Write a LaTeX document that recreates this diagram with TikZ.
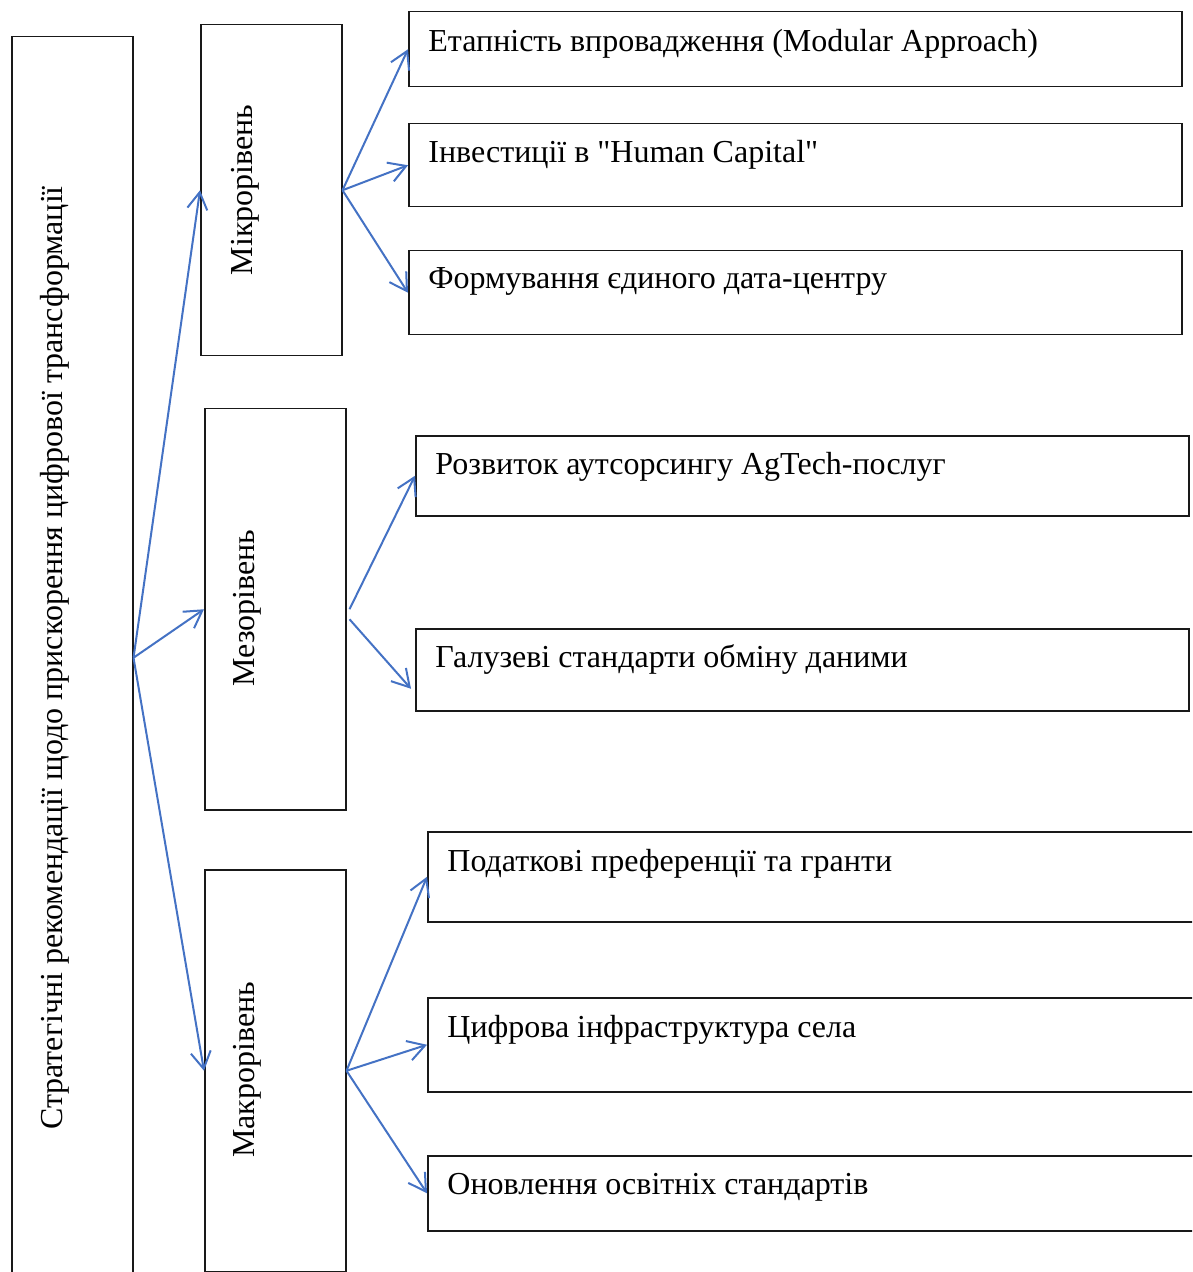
\documentclass[tikz,border=0pt]{standalone}
\usepackage{fontspec}
\setmainfont{Liberation Serif}
\usetikzlibrary{positioning,arrows.meta,calc}
\definecolor{LinkBlue}{RGB}{68,114,196}
\tikzset{
  lvlbox/.style={draw=black!90, line width=0.75pt, anchor=north west, inner sep=0pt},
  vtxt/.style={rotate=90, anchor=base, font=\fontsize{16}{19}\selectfont, inner sep=0pt},
  itxt/.style={anchor=base west, font=\fontsize{16}{19}\selectfont, inner sep=0pt},
  link/.style={-{Straight Barb[length=8.5pt,width=10pt]}, LinkBlue, line width=1pt},
}
\begin{document}
\begin{tikzpicture}[x=0.5pt, y=-0.5pt]
  \useasboundingbox (0,0) rectangle (1192,1272);
  \clip (0,0) rectangle (1192,1272);
  % levels
  \node[lvlbox, minimum width=60.5pt, minimum height=621pt] (strat) at (11,36) {};
  \node[lvlbox, minimum width=70.5pt, minimum height=165.5pt] (micro) at (200,24) {};
  \node[lvlbox, minimum width=70.5pt, minimum height=200.5pt] (meso) at (204,408) {};
  \node[lvlbox, minimum width=70.5pt, minimum height=201pt] (macro) at (204,869) {};
  \node[vtxt] (strat-t) at (62,658) {Стратегічні рекомендації щодо прискорення цифрової трансформації};
  \node[vtxt] (micro-t) at (252,190) {Мікрорівень};
  \node[vtxt] (meso-t) at (254,608) {Мезорівень};
  \node[vtxt] (macro-t) at (254,1070) {Макрорівень};
  % measures
  \node[lvlbox, minimum width=386.5pt, minimum height=37.5pt] (r1) at (408,11) {};
  \node[lvlbox, minimum width=386.5pt, minimum height=41.5pt] (r2) at (408,123) {};
  \node[lvlbox, minimum width=386.5pt, minimum height=42pt] (r3) at (408,250) {};
  \node[lvlbox, minimum width=386.5pt, minimum height=40pt] (r4) at (415,435) {};
  \node[lvlbox, minimum width=386.5pt, minimum height=41pt] (r5) at (415,628) {};
  \node[lvlbox, minimum width=390pt, minimum height=45pt] (r6) at (427,831) {};
  \node[lvlbox, minimum width=390pt, minimum height=47pt] (r7) at (427,997) {};
  \node[lvlbox, minimum width=390pt, minimum height=37.5pt] (r8) at (427,1155) {};
  \node[itxt] (r1-t) at ($(r1.north west)+(20,41)$) {Етапність впровадження (Modular Approach)};
  \node[itxt] (r2-t) at ($(r2.north west)+(20,40)$) {Інвестиції в \textquotedbl Human Capital\textquotedbl};
  \node[itxt] (r3-t) at ($(r3.north west)+(20,39)$) {Формування єдиного дата-центру};
  \node[itxt] (r4-t) at ($(r4.north west)+(20,39)$) {Розвиток аутсорсингу AgTech-послуг};
  \node[itxt] (r5-t) at ($(r5.north west)+(20,39)$) {Галузеві стандарти обміну даними};
  \node[itxt] (r6-t) at ($(r6.north west)+(20,40)$) {Податкові преференції та гранти};
  \node[itxt] (r7-t) at ($(r7.north west)+(20,40)$) {Цифрова інфраструктура села};
  \node[itxt] (r8-t) at ($(r8.north west)+(20,39)$) {Оновлення освітніх стандартів};
  % links
  \draw[link] (strat.east) -- (micro.west);
  \draw[link] (strat.east) -- (meso.west);
  \draw[link] (strat.east) -- (macro.west);
  \foreach \r in {r1,r2,r3} \draw[link] (micro.east) -- (\r.west);
  \draw[link] ($(meso.east)+(3,0)$) -- (r4.west);
  \draw[link] ($(meso.east)+(3,10)$) -- ($(r5.west)+(-4,19)$);
  \foreach \r in {r6,r7,r8} \draw[link] (macro.east) -- (\r.west);
\end{tikzpicture}
\end{document}
